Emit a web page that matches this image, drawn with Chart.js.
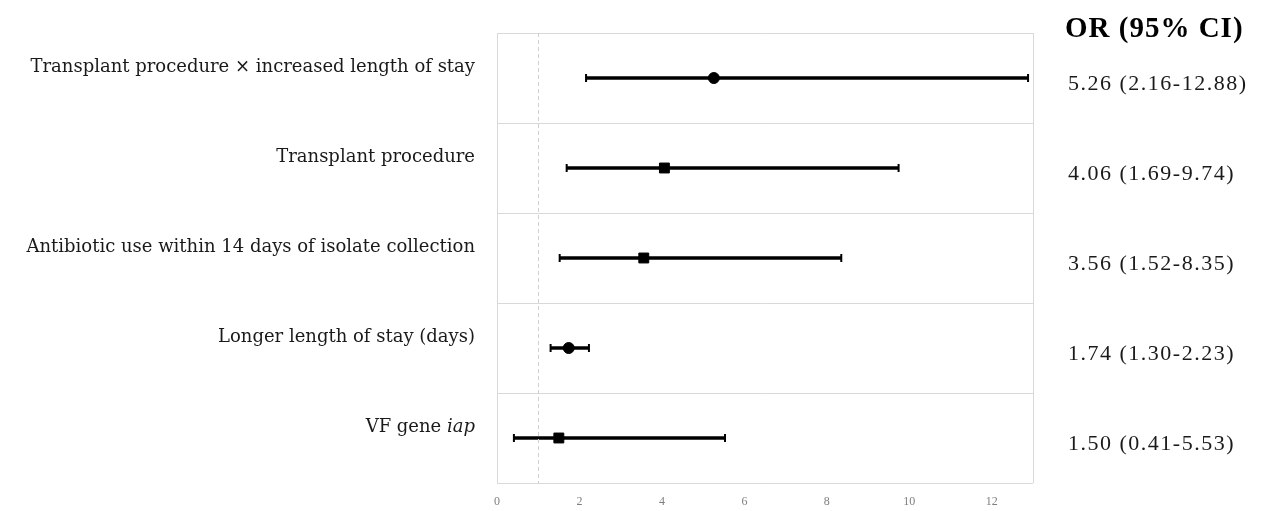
<!DOCTYPE html>
<html>
<head>
<meta charset="utf-8">
<script src="https://cdn.jsdelivr.net/npm/chart.js@4"></script>
<style>
  html, body { margin: 0; padding: 0; background: #fff; }
  #wrap { width: 1261px; height: 511px; }
</style>
</head>
<body>
<div id="wrap"><canvas id="forest"></canvas></div>
<script>
// rows, top to bottom; text between underscores is drawn in italics
const factors = [
  'Transplant procedure \u00d7 increased length of stay',
  'Transplant procedure',
  'Antibiotic use within 14 days of isolate collection',
  'Longer length of stay (days)',
  'VF gene _iap_'
];
const oddsRatios = [5.26, 4.06, 3.56, 1.74, 1.50];
const ciLow = [2.16, 1.69, 1.52, 1.30, 0.41];
const ciHigh = [12.88, 9.74, 8.35, 2.23, 5.53];
const markerShapes = ['circle', 'rect', 'rect', 'circle', 'rect'];
const xTicks = [0, 2, 4, 6, 8, 10, 12];
const refValue = 1;
const ciHeader = 'OR (95% CI)';

const plainLabels = factors.map(f => f.replace(/_/g, ''));
const ciText = oddsRatios.map((v, i) =>
  v.toFixed(2) + ' (' + ciLow[i].toFixed(2) + '-' + ciHigh[i].toFixed(2) + ')');

const LABEL_FONT = '18px "DejaVu Serif"';
const LABEL_ITALIC = 'italic 18px "DejaVu Serif"';

// draws the row labels, the dashed reference line, right border and OR column
const forestExtras = {
  id: 'forestExtras',
  afterDraw(chart) {
    const ctx = chart.ctx;
    const area = chart.chartArea;
    const xs = chart.scales.x, ys = chart.scales.y;
    ctx.save();

    // reference line at OR = 1
    const rx = Math.round(xs.getPixelForValue(refValue)) + 0.5;
    ctx.strokeStyle = '#d0d0d0';
    ctx.lineWidth = 1;
    ctx.setLineDash([4, 3]);
    ctx.beginPath();
    ctx.moveTo(rx, area.top);
    ctx.lineTo(rx, area.bottom);
    ctx.stroke();
    ctx.setLineDash([]);

    // right frame edge
    ctx.strokeStyle = '#d9d9d9';
    ctx.beginPath();
    ctx.moveTo(area.right + 0.5, area.top);
    ctx.lineTo(area.right + 0.5, area.bottom);
    ctx.stroke();

    // row labels (mixed upright / italic)
    ctx.fillStyle = '#1a1a1a';
    ctx.textBaseline = 'middle';
    ctx.textAlign = 'left';
    factors.forEach((f, i) => {
      const parts = f.split('_').map((t, k) => ({ t, it: k % 2 === 1 }));
      let w = 0;
      parts.forEach(p => { ctx.font = p.it ? LABEL_ITALIC : LABEL_FONT; w += ctx.measureText(p.t).width; });
      let x = area.left - 22 - w;
      const y = ys.getPixelForValue(i) - 11;
      parts.forEach(p => {
        ctx.font = p.it ? LABEL_ITALIC : LABEL_FONT;
        ctx.fillText(p.t, x, y);
        x += ctx.measureText(p.t).width;
      });
    });

    // OR (95% CI) column
    const colX = area.right + 35;
    ctx.fillStyle = '#000';
    ctx.letterSpacing = '1px';
    ctx.font = 'bold 29px "Liberation Serif"';
    ctx.fillText(ciHeader, colX - 3, area.top - 3);
    ctx.fillStyle = '#1a1a1a';
    ctx.letterSpacing = '1.5px';
    ctx.font = '22px "Liberation Serif"';
    ciText.forEach((t, i) => {
      ctx.fillText(t, colX, ys.getPixelForValue(i) + 6);
    });
    ctx.letterSpacing = '0px';
    ctx.restore();
  }
};

new Chart(document.getElementById('forest'), {
  type: 'bar',
  data: {
    labels: plainLabels,
    datasets: [
      {
        // confidence interval bars
        label: 'CI',
        data: ciLow.map((lo, i) => [lo, ciHigh[i]]),
        backgroundColor: '#000',
        barThickness: 3,
        order: 3
      },
      {
        // whisker caps
        type: 'line',
        label: 'low',
        data: ciLow,
        showLine: false,
        pointStyle: 'line',
        rotation: 90,
        pointRadius: 4,
        pointBorderWidth: 2,
        borderColor: '#000',
        order: 2
      },
      {
        type: 'line',
        label: 'high',
        data: ciHigh,
        showLine: false,
        pointStyle: 'line',
        rotation: 90,
        pointRadius: 4,
        pointBorderWidth: 2,
        borderColor: '#000',
        order: 2
      },
      {
        // point estimates
        type: 'line',
        label: 'OR',
        data: oddsRatios,
        showLine: false,
        pointStyle: markerShapes,
        pointRadius: markerShapes.map(s => s === 'rect' ? 7 : 5.5),
        pointBackgroundColor: '#000',
        pointBorderColor: '#000',
        borderColor: '#000',
        order: 1
      }
    ]
  },
  options: {
    indexAxis: 'y',
    responsive: true,
    maintainAspectRatio: false,
    animation: false,
    layout: { padding: { left: 497, right: 228, top: 33, bottom: 0 } },
    plugins: { legend: { display: false }, tooltip: { enabled: false } },
    scales: {
      x: {
        min: 0,
        max: 13,
        afterBuildTicks: axis => { axis.ticks = xTicks.map(v => ({ value: v })); },
        afterFit: axis => { axis.height = 28; },
        grid: { display: false },
        border: { display: false },
        ticks: {
          font: { family: 'Liberation Serif', size: 12 },
          color: '#7f7f7f',
          padding: 4,
          maxRotation: 0
        }
      },
      y: {
        offset: true,
        grid: { offset: true, color: '#d9d9d9', drawTicks: false },
        border: { display: true, color: '#d9d9d9' },
        ticks: { display: false }
      }
    }
  },
  plugins: [forestExtras]
});
</script>
</body>
</html>
